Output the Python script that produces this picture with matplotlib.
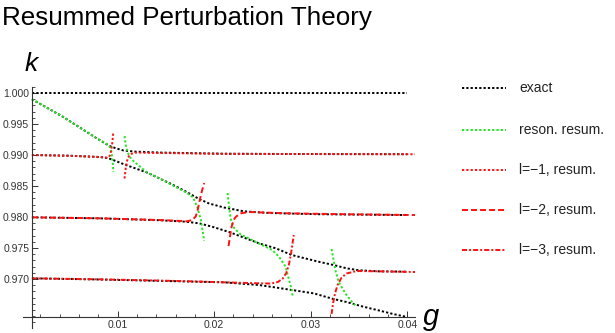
import matplotlib
matplotlib.use("Agg")
import matplotlib.pyplot as plt
from matplotlib.lines import Line2D
from matplotlib.ticker import MultipleLocator, FormatStrFormatter

plt.rcParams["font.family"] = ["Liberation Sans", "DejaVu Sans"]
plt.rcParams["lines.scale_dashes"] = False

# ---- exact levels (black) -------------------------------------------------
ex1_g = [0.00113, 0.04]
ex1_k = [1.0, 1.0]

ex2_g = [0.00113, 0.00433, 0.00784, 0.00918, 0.00990, 0.01062, 0.01175,
         0.01433, 0.02103, 0.02876, 0.04]
ex2_k = [0.99900, 0.99618, 0.99269, 0.99145, 0.99105, 0.99073, 0.99056,
         0.99040, 0.99021, 0.99016, 0.99013]

ex3_g = [0.00113, 0.00505, 0.00814, 0.00897, 0.00969, 0.01072, 0.01299,
         0.01536, 0.01711, 0.01845, 0.01948, 0.02103, 0.02309, 0.02567,
         0.03082, 0.04]
ex3_k = [0.99000, 0.98989, 0.98968, 0.98952, 0.98911, 0.98847, 0.98721,
         0.98548, 0.98408, 0.98290, 0.98218, 0.98153, 0.98092, 0.98065,
         0.98045, 0.98032]

ex4_g = [0.00113, 0.00814, 0.01433, 0.01711, 0.01845, 0.01979, 0.02155,
         0.02361, 0.02464, 0.02639, 0.02804, 0.03082, 0.03237, 0.03371,
         0.03495, 0.03701, 0.04]
ex4_k = [0.97995, 0.97979, 0.97948, 0.97924, 0.97898, 0.97844, 0.97758,
         0.97637, 0.97576, 0.97495, 0.97387, 0.97279, 0.97226, 0.97173,
         0.97142, 0.97124, 0.97118]

ex5_g = [0.00113, 0.00814, 0.01639, 0.02103, 0.02464, 0.02639, 0.02804,
         0.03031, 0.03237, 0.03371, 0.03546, 0.03701, 0.03856, 0.04]
ex5_k = [0.97011, 0.96992, 0.96963, 0.96947, 0.96903, 0.96863, 0.96823,
         0.96769, 0.96677, 0.96629, 0.96553, 0.96495, 0.96435, 0.96387]

# ---- resonant resummation (green), split at the poles ----------------------
gr1_g = [0.00113, 0.00433, 0.00784, 0.00897, 0.00923, 0.00935, 0.00943,
         0.00952, 0.00956]
gr1_k = [0.99900, 0.99618, 0.99269, 0.99169, 0.99121, 0.99065, 0.98968,
         0.98839, 0.98726]

gr2_g = [0.01072, 0.01088, 0.01108, 0.01141, 0.01206, 0.01299, 0.01485,
         0.01711, 0.01784, 0.01828, 0.01863, 0.01879, 0.01897]
gr2_k = [0.99306, 0.99129, 0.99032, 0.98935, 0.98847, 0.98726, 0.98581,
         0.98395, 0.98315, 0.98145, 0.97952, 0.97790, 0.97613]

gr3_g = [0.02139, 0.02155, 0.02172, 0.02206, 0.02275, 0.02361, 0.02464,
         0.02601, 0.02670, 0.02739, 0.02773, 0.02804, 0.02814]
gr3_k = [0.98387, 0.98169, 0.97968, 0.97823, 0.97718, 0.97653, 0.97573,
         0.97468, 0.97363, 0.97202, 0.97000, 0.96823, 0.96710]

gr4_g = [0.03216, 0.03237, 0.03255, 0.03289, 0.03358, 0.03426, 0.03477]
gr4_k = [0.97484, 0.97306, 0.97145, 0.96956, 0.96769, 0.96634, 0.96553]

# ---- l = -1 resummation (red dotted) ---------------------------------------
l1a_g = [0.00113, 0.00505, 0.00814, 0.00884, 0.00907, 0.00923, 0.00935,
         0.00945, 0.00952, 0.00956]
l1a_k = [0.99000, 0.98987, 0.98968, 0.98956, 0.98963, 0.99000, 0.99081,
         0.99194, 0.99306, 0.99379]
l1b_g = [0.01072, 0.01082, 0.01093, 0.01108, 0.01134, 0.01186, 0.01330,
         0.02103, 0.02876, 0.0408]
l1b_k = [0.98621, 0.98758, 0.98871, 0.98960, 0.99016, 0.99040, 0.99035,
         0.99019, 0.99016, 0.99013]

# ---- l = -2 resummation (red dashed) ---------------------------------------
l2a_g = [0.00113, 0.00814, 0.01433, 0.01722, 0.01773, 0.01809, 0.01830,
         0.01851, 0.01876, 0.01897]
l2a_k = [0.97995, 0.97979, 0.97952, 0.97931, 0.97952, 0.98008, 0.98113,
         0.98274, 0.98435, 0.98548]
l2b_g = [0.02149, 0.02165, 0.02180, 0.02201, 0.02227, 0.02278, 0.02361,
         0.02742, 0.03392, 0.0408]
l2b_k = [0.97532, 0.97694, 0.97839, 0.97952, 0.98008, 0.98060, 0.98081,
         0.98060, 0.98044, 0.98032]

# ---- l = -3 resummation (red dash-dot) -------------------------------------
l3a_g = [0.00113, 0.00814, 0.01639, 0.02103, 0.02464, 0.02588, 0.02660,
         0.02711, 0.02747, 0.02773, 0.02794, 0.02809, 0.02825]
l3a_k = [0.97011, 0.96995, 0.96968, 0.96947, 0.96931, 0.96927, 0.96952,
         0.97008, 0.97097, 0.97226, 0.97387, 0.97548, 0.97710]
l3b_g = [0.03216, 0.03232, 0.03253, 0.03278, 0.03320, 0.03371, 0.03474,
         0.03701, 0.0408]
l3b_k = [0.96435, 0.96613, 0.96774, 0.96903, 0.97024, 0.97089, 0.97129,
         0.97124, 0.97113]

legend_labels = ["exact", "reson. resum.", "l=\u22121, resum.",
                 "l=\u22122, resum.", "l=\u22123, resum."]

BLACK, GREEN, RED = "#000000", "#22e622", "#ff1111"
DOT = (1.6, 1.5)
DASH = (4.3, 2.2)
DASHDOT = (3.6, 1.5, 1.4, 1.5)
LW = 1.4

styles = [(BLACK, DOT), (GREEN, DOT), (RED, DOT), (RED, DASH), (RED, DASHDOT)]

W, H = 615, 333
fig = plt.figure(figsize=(W / 100, H / 100), dpi=100)
ax = fig.add_axes([23 / W, 5 / H, 392 / W, 241.3 / H])


def draw(g, k, style):
    color, dashes = style
    ax.plot(g, k, color=color, lw=LW, dashes=dashes, dash_capstyle="butt",
            solid_joinstyle="round")


for g, k in [(ex1_g, ex1_k), (ex2_g, ex2_k), (ex3_g, ex3_k),
             (ex4_g, ex4_k), (ex5_g, ex5_k)]:
    draw(g, k, styles[0])
for g, k in [(gr1_g, gr1_k), (gr2_g, gr2_k), (gr3_g, gr3_k), (gr4_g, gr4_k)]:
    draw(g, k, styles[1])
draw(l1a_g, l1a_k, styles[2])
draw(l1b_g, l1b_k, styles[2])
draw(l2a_g, l2a_k, styles[3])
draw(l2b_g, l2b_k, styles[3])
draw(l3a_g, l3a_k, styles[4])
draw(l3b_g, l3b_k, styles[4])

ax.set_xlim(0.000206, 0.0408)
ax.set_ylim(0.96210, 1.00102)

for s in ["top", "right"]:
    ax.spines[s].set_visible(False)
ax.spines["left"].set_position(("data", 0.00113))
ax.spines["bottom"].set_position(("data", 0.96387))
for s in ["left", "bottom"]:
    ax.spines[s].set_color("#333333")
    ax.spines[s].set_linewidth(0.8)

ax.xaxis.set_major_locator(MultipleLocator(0.01))
ax.xaxis.set_minor_locator(MultipleLocator(0.002))
ax.yaxis.set_major_locator(MultipleLocator(0.005))
ax.yaxis.set_minor_locator(MultipleLocator(0.001))
ax.xaxis.set_major_formatter(FormatStrFormatter("%.2f"))
ax.yaxis.set_major_formatter(FormatStrFormatter("%.3f"))
ax.set_xticks([0.01, 0.02, 0.03, 0.04])
ax.set_yticks([0.970, 0.975, 0.980, 0.985, 0.990, 0.995, 1.000])
ax.tick_params(which="major", direction="in", length=4, width=0.7,
               color="#333333", labelcolor="#333333", labelsize=7.5, pad=2)
ax.tick_params(which="minor", direction="in", length=2.2, width=0.6,
               color="#333333")

fig.text(2 / W, 1 - 25 / H, "Resummed Perturbation Theory", fontsize=18.7,
         va="baseline", ha="left")
fig.text(25 / W, 1 - 71 / H, "k", fontsize=19, style="italic",
         va="baseline", ha="left")
fig.text(423 / W, 1 - 325 / H, "g", fontsize=21, style="italic",
         va="baseline", ha="left")

rows_y = [88.3, 130, 170, 210, 250]
for y, lab, (color, dashes) in zip(rows_y, legend_labels, styles):
    yy = 1 - y / H
    fig.add_artist(Line2D([462 / W, 506 / W], [yy, yy], color=color, lw=LW,
                          dashes=dashes, dash_capstyle="butt"))
    fig.text(519 / W, yy, lab, fontsize=10, va="center", ha="left",
             color="#222222")

fig.savefig("out.png", dpi=100)
